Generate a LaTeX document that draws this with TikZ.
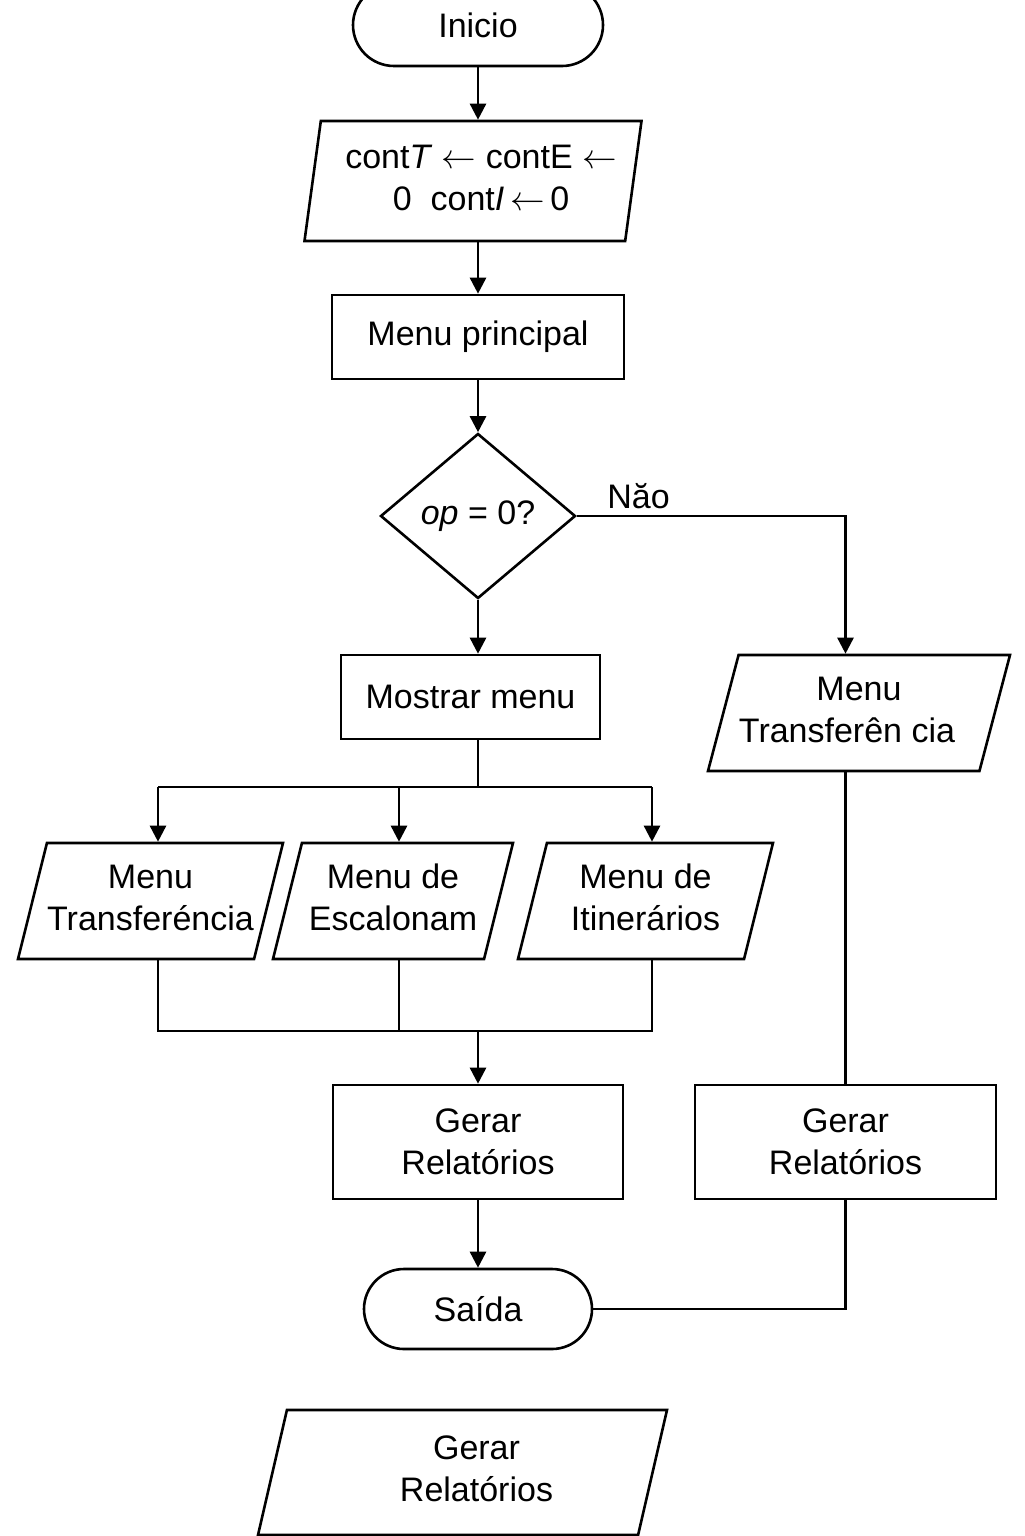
\documentclass[tikz,border=0pt]{standalone}
\usepackage{fontspec}
\setmainfont{Liberation Sans}
\usetikzlibrary{arrows.meta}
\usetikzlibrary{shapes.geometric}
\usetikzlibrary{shapes.misc}

\newcommand{\ioline}[1]{\makebox[0pt]{\begin{tabular}{@{}c@{}}#1\end{tabular}}}

\tikzset{
    termbox/.style={draw, rounded rectangle, minimum height=40pt, inner sep=0pt},
    procbox/.style={draw, rectangle, align=center, minimum height=42pt, inner sep=0pt},
    iobox/.style 2 args={draw, trapezium, trapezium stretches body=true, trapezium left angle=#1, trapezium right angle=#2, inner sep=0pt},
    decbox/.style={draw, diamond, aspect=1.18, inner sep=0pt, minimum width=97.5pt, minimum height=82.5pt},
    arr/.style={-{Triangle[length=8pt, width=8pt]}}
}

\begin{document}
\begin{tikzpicture}[x=0.5pt, y=-0.5pt, line width=1.3pt, every node/.style={font=\fontsize{17}{21}\selectfont}]
        \useasboundingbox (0, 0) rectangle (1024, 1536);

        \node[termbox, minimum width=125pt, minimum height=41pt] (inicio) at (478, 25) {Inicio};
        \node[iobox={79}{101}, minimum width=168.5pt, minimum height=60pt] (init) at (473, 181) {\ioline{\hspace{8pt}cont\textit{T} $\leftarrow$ contE $\leftarrow$\\\hspace{8pt}0\ \ cont\textit{I}\,$\leftarrow$\,0}};
        \node[procbox, minimum width=146pt] (menup) at (478, 337) {Menu principal};
        \node[decbox] (opzero) at (478, 516) {\textit{op} = 0?};
        \node[procbox, minimum width=129.5pt] (mostrar) at (470.5, 697) {Mostrar menu};

        \node[iobox={71}{109}, minimum width=132.5pt, minimum height=58pt] (mtransf) at (150.5, 901) {\ioline{Menu\\Transferéncia}};
        \node[iobox={71}{109}, minimum width=120pt, minimum height=58pt] (mescal) at (393, 901) {\ioline{Menu de\\Escalonam}};
        \node[iobox={71}{109}, minimum width=127.5pt, minimum height=58pt] (mitin) at (645.5, 901) {\ioline{Menu de\\Itinerários}};
        \node[iobox={70}{110}, minimum width=151pt, minimum height=58pt] (mtransfr) at (859, 713) {\ioline{Menu\\\hspace{-12pt}Transferên cia}};

        \node[procbox, minimum width=145pt, minimum height=57pt] (gerar) at (478, 1142) {Gerar\\Relatórios};
        \node[procbox, minimum width=150.5pt, minimum height=57pt] (gerarr) at (845.5, 1142) {Gerar\\Relatórios};
        \node[termbox, minimum width=114pt] (saida) at (478, 1309) {Saída};
        \node[iobox={71}{109}, minimum width=204.5pt, minimum height=62.5pt] (gerarx) at (462.5, 1472.5) {\ioline{\hspace{14pt}Gerar\\\hspace{14pt}Relatórios}};

        \coordinate (bus) at (478, 787);
        \coordinate (b1) at (158, 787);
        \coordinate (b2) at (399, 787);
        \coordinate (b3) at (652, 787);
        \coordinate (m1) at (158, 1031);
        \coordinate (m2) at (399, 1031);
        \coordinate (m3) at (652, 1031);
        \coordinate (join) at (478, 1031);

        \draw[arr] (inicio.south) -- (inicio.south |- init.north);
        \draw[arr] (init.south -| menup.north) -- (menup.north);
        \draw[arr] (menup.south) -- (opzero.north);
        \draw[arr] (opzero.south) -- (opzero.south |- mostrar.north);
        \draw[arr] (opzero.east) -| node[pos=0.115, above, inner sep=3pt] {Năo} (gerarr.north |- mtransfr.north);

        \draw (opzero.south |- mostrar.south) -- (bus);
        \draw (b1) -- (b3);
        \draw[arr] (b1) -- (b1 |- mtransf.north);
        \draw[arr] (b2) -- (b2 |- mescal.north);
        \draw[arr] (b3) -- (b3 |- mitin.north);

        \draw (b1 |- mtransf.south) -- (m1) -- (m3) -- (b3 |- mitin.south);
        \draw (b2 |- mescal.south) -- (m2);
        \draw[arr] (join) -- (join |- gerar.north);
        \draw[arr] (gerar.south) -- (saida.north);

        \draw (gerarr.north |- mtransfr.south) -- (gerarr.north);
        \draw (gerarr.south) |- (saida.east);
    \end{tikzpicture}
\end{document}
